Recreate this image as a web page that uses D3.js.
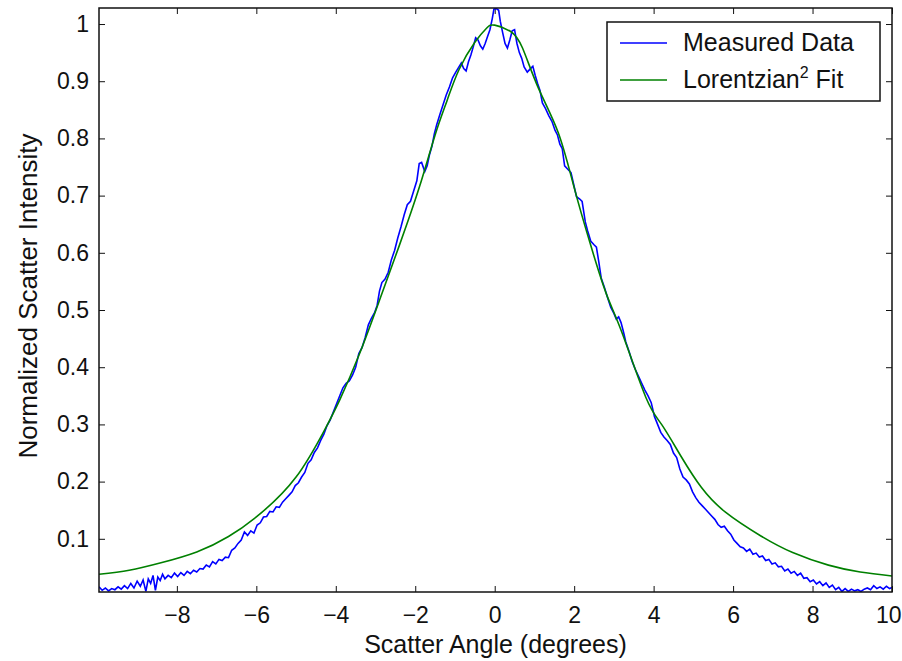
<!DOCTYPE html>
<html>
<head>
<meta charset="utf-8">
<script src="https://cdn.jsdelivr.net/npm/d3@7"></script>
<style>
  body { margin: 0; background: #fff; }
  svg { display: block; font-family: "Liberation Sans", Arial, sans-serif; }
  .axis text { fill: #111; }
  .axis line { stroke: #111; }
</style>
</head>
<body>
<svg id="chart"></svg>
<script>
"use strict";

var svg_width = 902;
var svg_height = 661;

// values
var measuredAngle = [
  -9.96, -9.88, -9.80, -9.72, -9.64, -9.56, -9.48, -9.40, -9.32, -9.24,
  -9.16, -9.08, -9.00, -8.92, -8.85, -8.78, -8.72, -8.66, -8.60, -8.54,
  -8.48, -8.42, -8.36, -8.30, -8.22, -8.14, -8.06, -7.98, -7.90, -7.82,
  -7.74, -7.66, -7.58, -7.50, -7.42, -7.34, -7.26, -7.18, -7.10, -7.02,
  -6.94, -6.86, -6.78, -6.70, -6.62, -6.54, -6.46, -6.38, -6.30, -6.22,
  -6.14, -6.06, -5.98, -5.90, -5.82, -5.74, -5.66, -5.58, -5.50, -5.42,
  -5.34, -5.26, -5.18, -5.10, -5.02, -4.94, -4.86, -4.78, -4.70, -4.62,
  -4.54, -4.46, -4.38, -4.30, -4.22, -4.14, -4.06, -3.98, -3.90, -3.82,
  -3.74, -3.66, -3.58, -3.50, -3.42, -3.34, -3.26, -3.18, -3.10, -3.02,
  -2.96, -2.90, -2.84, -2.76, -2.68, -2.60, -2.52, -2.44, -2.36, -2.28,
  -2.20, -2.12, -2.04, -1.96, -1.90, -1.84, -1.76, -1.70, -1.64, -1.58,
  -1.52, -1.46, -1.38, -1.30, -1.22, -1.14, -1.06, -0.98, -0.90, -0.84,
  -0.78, -0.72, -0.66, -0.60, -0.54, -0.48, -0.42, -0.36, -0.30, -0.24,
  -0.18, -0.12, -0.06, -0.02, 0.04, 0.10, 0.14, 0.20, 0.26, 0.32,
  0.38, 0.44, 0.50, 0.56, 0.62, 0.68, 0.74, 0.82, 0.90, 0.96,
  1.02, 1.08, 1.14, 1.20, 1.28, 1.36, 1.44, 1.52, 1.58, 1.64,
  1.70, 1.76, 1.84, 1.92, 2.00, 2.06, 2.14, 2.20, 2.28, 2.34,
  2.42, 2.50, 2.56, 2.62, 2.68, 2.76, 2.84, 2.92, 3.00, 3.06,
  3.12, 3.18, 3.24, 3.30, 3.38, 3.46, 3.54, 3.62, 3.70, 3.78,
  3.86, 3.94, 4.02, 4.10, 4.18, 4.26, 4.34, 4.42, 4.50, 4.58,
  4.66, 4.74, 4.82, 4.90, 4.98, 5.06, 5.14, 5.22, 5.30, 5.38,
  5.46, 5.54, 5.62, 5.70, 5.78, 5.86, 5.94, 6.02, 6.10, 6.18,
  6.26, 6.34, 6.42, 6.50, 6.58, 6.66, 6.74, 6.82, 6.90, 6.98,
  7.06, 7.14, 7.22, 7.30, 7.38, 7.46, 7.54, 7.62, 7.70, 7.78,
  7.86, 7.94, 8.02, 8.10, 8.18, 8.26, 8.34, 8.42, 8.50, 8.58,
  8.66, 8.74, 8.82, 8.90, 8.98, 9.06, 9.14, 9.22, 9.30, 9.38,
  9.46, 9.54, 9.62, 9.70, 9.78, 9.86, 9.94, 10.00
];
var measuredIntensity = [
  0.016, 0.010, 0.014, 0.009, 0.013, 0.011, 0.016, 0.012, 0.018, 0.013,
  0.022, 0.014, 0.026, 0.017, 0.028, 0.008, 0.030, 0.022, 0.036, 0.010,
  0.033, 0.027, 0.038, 0.030, 0.036, 0.032, 0.040, 0.034, 0.041, 0.036,
  0.043, 0.039, 0.045, 0.042, 0.048, 0.047, 0.054, 0.051, 0.060, 0.056,
  0.064, 0.062, 0.068, 0.067, 0.080, 0.084, 0.092, 0.098, 0.112, 0.106,
  0.114, 0.110, 0.124, 0.128, 0.138, 0.139, 0.148, 0.147, 0.156, 0.155,
  0.164, 0.170, 0.176, 0.182, 0.193, 0.198, 0.208, 0.216, 0.232, 0.238,
  0.251, 0.259, 0.272, 0.283, 0.298, 0.308, 0.322, 0.336, 0.350, 0.364,
  0.372, 0.376, 0.386, 0.400, 0.424, 0.434, 0.452, 0.474, 0.486, 0.496,
  0.508, 0.533, 0.548, 0.554, 0.566, 0.588, 0.604, 0.626, 0.645, 0.666,
  0.684, 0.690, 0.708, 0.726, 0.756, 0.758, 0.742, 0.752, 0.772, 0.786,
  0.808, 0.824, 0.842, 0.859, 0.876, 0.890, 0.906, 0.916, 0.925, 0.932,
  0.922, 0.918, 0.934, 0.946, 0.960, 0.976, 0.972, 0.962, 0.956, 0.966,
  0.978, 0.990, 1.010, 1.026, 1.027, 1.024, 1.005, 0.985, 0.966, 0.958,
  0.972, 0.988, 0.990, 0.966, 0.950, 0.940, 0.925, 0.916, 0.922, 0.926,
  0.910, 0.896, 0.884, 0.862, 0.852, 0.840, 0.830, 0.814, 0.806, 0.790,
  0.782, 0.752, 0.746, 0.740, 0.716, 0.698, 0.694, 0.690, 0.654, 0.638,
  0.620, 0.614, 0.610, 0.584, 0.556, 0.540, 0.522, 0.505, 0.494, 0.484,
  0.488, 0.478, 0.462, 0.444, 0.428, 0.410, 0.396, 0.384, 0.372, 0.360,
  0.350, 0.338, 0.314, 0.300, 0.286, 0.278, 0.272, 0.265, 0.250, 0.242,
  0.222, 0.208, 0.203, 0.196, 0.182, 0.172, 0.164, 0.158, 0.152, 0.146,
  0.140, 0.134, 0.125, 0.120, 0.122, 0.114, 0.108, 0.098, 0.092, 0.086,
  0.084, 0.078, 0.082, 0.073, 0.075, 0.068, 0.070, 0.062, 0.064, 0.056,
  0.058, 0.051, 0.052, 0.044, 0.047, 0.040, 0.043, 0.036, 0.040, 0.031,
  0.032, 0.025, 0.028, 0.021, 0.025, 0.018, 0.023, 0.015, 0.019, 0.011,
  0.015, 0.008, 0.013, 0.008, 0.012, 0.009, 0.011, 0.008, 0.012, 0.014,
  0.011, 0.018, 0.013, 0.016, 0.012, 0.017, 0.013, 0.015
];

var fitAngle = [
  -9.96, -9.2, -8.4, -7.5, -6.7, -5.9, -5.0, -4.3, -3.9,
  -3.4, -2.9, -2.4, -1.9, -1.5, -1.2, -0.9, -0.5, -0.2, 0.0,
  0.4, 0.7, 1.1, 1.6, 2.0, 2.4, 2.8, 3.2, 3.8, 4.2,
  4.7, 5.2, 5.8, 6.7, 7.5, 8.4, 9.2, 10.0
];
var fitIntensity = [
  0.038, 0.045, 0.058, 0.077, 0.104, 0.144, 0.208, 0.288, 0.343,
  0.424, 0.517, 0.613, 0.714, 0.806, 0.866, 0.920, 0.968, 0.993, 0.998,
  0.987, 0.958, 0.888, 0.810, 0.714, 0.617, 0.530, 0.461, 0.348, 0.300,
  0.243, 0.190, 0.147, 0.105, 0.076, 0.054, 0.042, 0.035
];

var xTicks = [-8, -6, -4, -2, 0, 2, 4, 6, 8, 10];
var yTicks = [0.1, 0.2, 0.3, 0.4, 0.5, 0.6, 0.7, 0.8, 0.9, 1];
var seriesNames = ["Measured Data", "Lorentzian"];
var seriesColors = ["#0000ff", "#008000"];

var plotLeft = 99, plotRight = 892, plotTop = 8, plotBottom = 592;
var tickFont = 23;

var svg = d3.select("#chart")
    .attr("width", svg_width)
    .attr("height", svg_height);

var xScale = d3.scaleLinear()
    .domain([d3.min(measuredAngle), d3.max(measuredAngle)])
    .range([plotLeft, plotRight]);
var yScale = d3.scaleLinear()
    .domain([0.007, 1.028])
    .range([plotBottom, plotTop]);

var fmt = d3.format("~g");

function styleAxis(g) {
    g.select(".domain").remove();
    g.attr("font-size", tickFont)
        .attr("font-family", "Liberation Sans, Arial, sans-serif");
}

// axes, ticks pointing inward on all four sides
var xAxis = svg.append("g")
    .attr("class", "axis")
    .attr("transform", "translate(0," + plotBottom + ")")
    .call(d3.axisBottom(xScale).tickValues(xTicks).tickFormat(fmt)
        .tickSizeInner(-6).tickSizeOuter(0).tickPadding(15))
    .call(styleAxis);
// last label sits at the window edge: keep it inside
xAxis.selectAll(".tick text")
    .filter(function(d) { return d === xTicks[xTicks.length - 1]; })
    .attr("text-anchor", "end")
    .attr("x", 9);

svg.append("g")
    .attr("class", "axis")
    .attr("transform", "translate(0," + plotTop + ")")
    .call(d3.axisTop(xScale).tickValues(xTicks).tickFormat("")
        .tickSizeInner(-6).tickSizeOuter(0))
    .call(styleAxis);

svg.append("g")
    .attr("class", "axis")
    .attr("transform", "translate(" + plotLeft + ",0)")
    .call(d3.axisLeft(yScale).tickValues(yTicks).tickFormat(fmt)
        .tickSizeInner(-6).tickSizeOuter(0).tickPadding(10))
    .call(styleAxis);

svg.append("g")
    .attr("class", "axis")
    .attr("transform", "translate(" + plotRight + ",0)")
    .call(d3.axisRight(yScale).tickValues(yTicks).tickFormat("")
        .tickSizeInner(-6).tickSizeOuter(0))
    .call(styleAxis);

// clip lines to the plot box
svg.append("clipPath").attr("id", "plotclip")
    .append("rect")
    .attr("x", plotLeft).attr("y", plotTop)
    .attr("width", plotRight - plotLeft).attr("height", plotBottom - plotTop);

var measured = measuredAngle.map(function(a, i) { return [a, measuredIntensity[i]]; });
var fit = fitAngle.map(function(a, i) { return [a, fitIntensity[i]]; });

var line = d3.line()
    .x(function(d) { return xScale(d[0]); })
    .y(function(d) { return yScale(d[1]); });

var lines = svg.append("g").attr("clip-path", "url(#plotclip)");
lines.append("path")
    .attr("d", line(measured))
    .attr("fill", "none")
    .attr("stroke", seriesColors[0])
    .attr("stroke-width", 1.6);
lines.append("path")
    .attr("d", line.curve(d3.curveNatural)(fit))
    .attr("fill", "none")
    .attr("stroke", seriesColors[1])
    .attr("stroke-width", 1.6);

// box
svg.append("rect")
    .attr("x", plotLeft).attr("y", plotTop)
    .attr("width", plotRight - plotLeft).attr("height", plotBottom - plotTop)
    .attr("fill", "none")
    .attr("stroke", "#111")
    .attr("stroke-width", 1.5);

// axis labels
svg.append("text")
    .attr("x", (plotLeft + plotRight) / 2)
    .attr("y", 653)
    .attr("text-anchor", "middle")
    .attr("font-size", 25)
    .attr("fill", "#111")
    .text("Scatter Angle (degrees)");

svg.append("text")
    .attr("transform", "translate(37," + 296 + ") rotate(-90)")
    .attr("text-anchor", "middle")
    .attr("font-size", 26)
    .attr("fill", "#111")
    .text("Normalized Scatter Intensity");

// legend
var legend = svg.append("g")
    .attr("transform", "translate(" + (plotRight - 285) + "," + (plotTop + 14) + ")");
legend.append("rect")
    .attr("width", 273).attr("height", 79)
    .attr("fill", "#fff")
    .attr("stroke", "#111")
    .attr("stroke-width", 1.5);

seriesNames.forEach(function(name, i) {
    var y = 21 + i * 37;
    legend.append("line")
        .attr("x1", 13).attr("x2", 60)
        .attr("y1", y).attr("y2", y)
        .attr("stroke", seriesColors[i])
        .attr("stroke-width", 1.6);
    var t = legend.append("text")
        .attr("x", 76).attr("y", y + 8)
        .attr("font-size", 25)
        .attr("fill", "#111")
        .text(name);
    if (i === 1) {
        t.append("tspan").attr("font-size", 16).attr("dy", -10).text("2");
        t.append("tspan").attr("dy", 10).text(" Fit");
    }
});
</script>
</body>
</html>
